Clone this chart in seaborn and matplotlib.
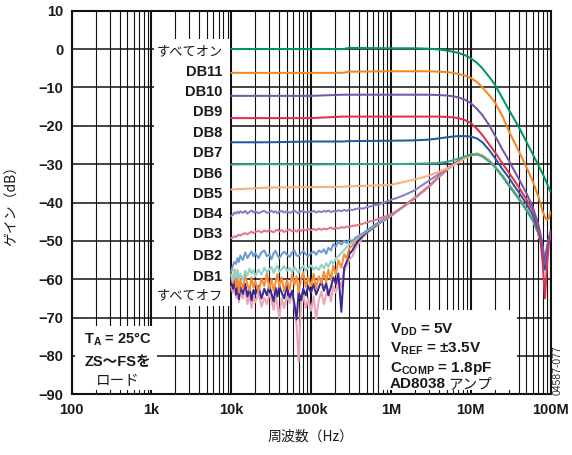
import matplotlib
matplotlib.use("Agg")
import matplotlib.pyplot as plt
import pandas as pd
import seaborn as sns
from matplotlib.patches import Rectangle
from matplotlib.ticker import FixedLocator, FixedFormatter, LogLocator, NullFormatter

# ---------------------------------------------------------------- data
# x tick positions / labels
x_ticks = [1e2, 1e3, 1e4, 1e5, 1e6, 1e7, 1e8]
x_tick_labels = ["100", "1k", "10k", "100k", "1M", "10M", "100M"]
y_ticks = [-90, -80, -70, -60, -50, -40, -30, -20, -10, 0, 10]
y_tick_labels = ["\u221290", "\u221280", "\u221270", "\u221260", "\u221250",
                 "\u221240", "\u221230", "\u221220", "\u221210", "0", "10"]

# code labels, top to bottom
code_labels = ["すべてオン", "DB11", "DB10", "DB9", "DB8", "DB7", "DB6",
               "DB5", "DB4", "DB3", "DB2", "DB1", "すべてオフ"]

# frequency grid for the upper (clean) responses
f_up = [10e3, 30e3, 100e3, 250e3, 300e3, 1e6, 2e6, 3e6, 4e6, 5e6, 6e6, 7e6,
        8.5e6, 10e6, 12e6, 14e6, 17e6, 20e6, 25e6, 30e6, 35e6, 40e6, 50e6,
        60e6, 70e6, 75e6, 80e6, 85e6, 90e6, 95e6, 100e6]

gain_all_on = [0, 0, 0, 0, 0.3, 0.2, 0.2, 0.1, -0.1, -0.4, -0.7, -1.0, -1.6,
               -2.4, -3.6, -5.0, -7.2, -9.2, -12.8, -15.8, -18.2, -20.3, -24.2,
               -27.4, -30.2, -31.4, -32.6, -33.8, -35.0, -36.1, -37.2]
gain_db11 = [-6.2, -6.2, -6.2, -6.2, -5.9, -5.8, -5.8, -5.8, -5.9, -6.0, -6.2,
             -6.5, -6.9, -7.5, -8.6, -10.0, -12.0, -13.8, -17.5, -21.3, -24.2,
             -26.6, -30.8, -34.5, -38.3, -40.3, -42.4, -43.8, -44.6, -44.2, -42.5]
gain_db10 = [-12.2, -12.2, -12.2, -11.9, -11.9, -11.9, -11.9, -11.9, -12.0,
             -12.1, -12.3, -12.6, -13.2, -14.1, -15.6, -17.2, -19.8, -22.4,
             -26.2, -29.0, -31.6, -33.8, -37.6, -41.2, -45.5, -48.3, -51.5,
             -56.0, -51.8, -49.5, -47.5]
gain_db9 = [-18.0, -18.0, -18.0, -17.6, -17.6, -17.6, -17.6, -17.6, -17.6,
            -17.7, -17.8, -18.0, -18.5, -19.3, -20.8, -22.4, -24.8, -26.8,
            -29.8, -32.2, -34.2, -36.0, -39.2, -42.0, -46.5, -50.0, -56.0,
            -65.0, -57.0, -51.0, -48.5]
gain_db8 = [-24.3, -24.3, -24.1, -24.1, -24.0, -23.9, -23.8, -23.6, -23.3,
            -23.0, -22.8, -22.7, -22.7, -22.8, -23.3, -24.3, -26.3, -28.3,
            -31.3, -33.5, -35.6, -37.3, -40.4, -43.2, -47.0, -49.5, -53.0,
            -57.5, -53.0, -50.0, -48.0]
gain_db7 = [-30.1, -30.0, -30.1, -30.0, -30.0, -30.0, -29.9, -29.8, -29.7,
            -29.4, -29.0, -28.6, -28.0, -27.6, -27.5, -28.0, -29.3, -30.7,
            -33.2, -35.5, -37.4, -39.0, -42.0, -44.6, -47.8, -50.0, -52.5,
            -56.0, -52.5, -50.0, -48.0]
gain_db6 = [-36.6, -36.1, -36.0, -35.9, -35.8, -35.4, -34.0, -33.0, -32.0,
            -31.2, -30.4, -29.6, -28.5, -27.7, -27.3, -27.8, -29.1, -30.6,
            -33.1, -35.4, -37.3, -38.9, -41.9, -44.5, -47.8, -50.0, -52.5,
            -56.5, -52.5, -50.0, -48.0]

# frequency grid for the low-level (noisy) responses, 10 kHz .. 1 MHz
f_noise = [10e3, 10.5e3, 11e3, 11.5e3, 12e3, 12.5e3, 13e3, 14e3, 15e3, 16e3,
           17e3, 18e3, 19e3, 20e3, 22e3, 24e3, 26e3, 28e3, 30e3, 32e3, 34e3,
           36e3, 38e3, 40e3, 43e3, 46e3, 50e3, 54e3, 58e3, 62e3, 66e3, 70e3,
           75e3, 80e3, 86e3, 92e3, 100e3, 108e3, 116e3, 125e3, 135e3, 145e3,
           155e3, 165e3, 178e3, 190e3, 205e3, 220e3, 240e3, 260e3, 280e3,
           300e3, 330e3, 360e3, 400e3, 450e3, 500e3, 560e3, 630e3, 710e3,
           800e3, 900e3, 1e6]

# frequency grid above 1 MHz where the low-level responses merge
f_tail = [1.2e6, 1.5e6, 2e6, 3e6, 4e6, 5e6, 6e6, 7e6, 8.5e6, 10e6, 12e6, 14e6,
          17e6, 20e6, 25e6, 30e6, 35e6, 40e6, 50e6, 60e6, 70e6, 75e6, 80e6,
          85e6, 90e6, 95e6, 100e6]
gain_tail = [-42.2, -40.8, -38.8, -35.8, -33.3, -31.5, -30.2, -29.2, -28.2,
             -27.6, -27.3, -27.8, -29.1, -30.6, -33.1, -35.4, -37.3, -38.9,
             -41.9, -44.5, -47.8, -50.0, -52.5, -56.5, -52.5, -50.0, -48.0]
gain_db5_tail = [-38.8, -38.0, -36.8, -34.3, -32.6, -31.2, -30.1, -29.2,
                 -28.2, -27.6, -27.3, -27.8, -29.1, -30.6, -33.1, -35.4, -37.3,
                 -38.9, -41.9, -44.5, -47.8, -50.0, -52.5, -55.5, -52.5, -50.0,
                 -48.0]

gain_db5 = [-43.5, -43.2, -42.6, -42.9, -42.4, -42.8, -42.3, -42.7, -42.2,
            -42.9, -42.4, -42.1, -42.6, -42.3, -42.8, -42.4, -42.2, -42.7,
            -42.5, -42.1, -42.6, -42.3, -42.8, -42.4, -42.2, -42.6, -42.3,
            -42.7, -42.4, -42.1, -42.5, -42.8, -42.3, -42.2, -42.6, -42.4,
            -42.5, -42.2, -42.6, -42.3, -42.5, -42.2, -42.4, -42.1, -42.5,
            -42.2, -42.4, -42.0, -42.3, -41.9, -42.2, -41.8, -42.0, -41.7,
            -41.5, -41.6, -41.2, -41.0, -40.7, -40.5, -40.1, -39.7, -39.3]
gain_db4 = [-49.3, -49.1, -48.8, -49.0, -48.6, -48.4, -48.6, -48.2, -48.0,
            -48.3, -47.9, -47.6, -48.0, -47.7, -47.4, -47.8, -47.3, -47.6,
            -47.2, -47.5, -47.8, -47.3, -47.1, -47.5, -47.2, -47.7, -47.3,
            -47.0, -47.5, -47.2, -47.6, -47.1, -47.4, -47.0, -47.3, -46.9,
            -47.2, -46.9, -47.2, -46.8, -47.1, -46.8, -47.0, -46.8, -46.5,
            -46.9, -46.6, -46.8, -46.4, -46.6, -46.3, -46.4, -46.1, -46.0,
            -45.8, -45.5, -45.2, -44.9, -44.6, -44.2, -43.8, -43.5, -43.1]
gain_db3 = [-58.0, -56.5, -55.5, -56.0, -54.5, -55.5, -53.8, -55.0, -53.0,
            -54.5, -53.5, -52.8, -54.0, -53.2, -54.5, -53.0, -52.5, -54.0,
            -53.5, -54.8, -53.2, -52.6, -53.8, -54.5, -53.5, -52.8, -53.6,
            -54.2, -53.0, -52.5, -53.8, -54.0, -53.2, -52.6, -53.5, -54.0,
            -53.2, -52.8, -53.6, -52.5, -53.0, -52.2, -53.4, -51.8, -52.5,
            -50.8, -51.5, -50.2, -51.0, -50.0, -50.6, -49.8, -50.0, -49.2,
            -48.6, -48.0, -47.3, -46.6, -45.8, -45.1, -44.4, -43.8, -43.2]
gain_db2 = [-59.0, -60.5, -58.0, -59.5, -57.5, -60.0, -58.5, -60.2, -57.8,
            -59.0, -57.2, -58.5, -57.6, -59.2, -57.5, -58.8, -57.0, -58.2,
            -57.5, -56.8, -58.4, -57.2, -56.5, -58.0, -57.4, -56.6, -57.8,
            -57.0, -58.2, -56.8, -57.6, -58.3, -57.2, -56.5, -57.8, -57.0,
            -56.4, -57.5, -56.8, -57.6, -56.2, -57.2, -55.8, -56.8, -55.2,
            -56.0, -54.5, -54.0, -53.2, -52.4, -51.6, -51.0, -50.4, -49.6,
            -48.8, -48.1, -47.4, -46.7, -45.9, -45.2, -44.5, -43.9, -43.3]
gain_db1 = [-58.5, -61.0, -57.5, -62.0, -59.5, -63.5, -60.0, -62.5, -58.8,
            -61.5, -63.0, -59.5, -62.2, -60.5, -63.2, -59.8, -61.8, -58.5,
            -62.5, -60.0, -63.0, -60.8, -58.6, -62.0, -59.5, -63.2, -60.2,
            -62.8, -58.8, -61.5, -59.2, -63.5, -60.0, -58.2, -62.0, -59.5,
            -61.8, -58.6, -62.5, -59.2, -61.0, -58.0, -60.8, -57.5, -60.2,
            -56.5, -58.8, -55.0, -57.0, -53.5, -54.6, -52.0, -51.2, -50.0,
            -49.0, -48.2, -47.5, -46.8, -46.0, -45.3, -44.6, -44.0, -43.4]
gain_db0 = [-60.0, -62.5, -59.5, -64.0, -61.0, -65.2, -62.0, -63.8, -61.2,
            -64.5, -62.2, -65.5, -62.8, -64.0, -61.8, -65.0, -62.5, -64.2,
            -61.5, -63.8, -65.8, -62.2, -64.5, -61.8, -63.5, -65.0, -62.0,
            -64.8, -63.0, -66.5, -70.5, -63.2, -65.5, -62.5, -64.2, -61.8,
            -63.5, -61.2, -64.0, -62.2, -60.5, -63.0, -61.0, -64.2, -62.0,
            -59.5, -61.2, -58.5, -68.5, -57.0, -55.5, -53.5, -52.5, -51.0,
            -49.8, -48.6, -47.8, -47.0, -46.2, -45.4, -44.7, -44.1, -43.5]
gain_all_off = [-62.0, -63.5, -61.5, -64.8, -62.5, -66.0, -63.2, -65.0, -62.8,
                -66.5, -64.0, -67.5, -64.5, -66.0, -63.5, -67.2, -64.8, -66.5,
                -63.8, -65.5, -68.0, -64.2, -66.8, -70.0, -65.0, -67.5, -64.5,
                -66.2, -63.5, -67.0, -72.0, -81.5, -66.0, -64.2, -67.5, -65.0,
                -68.2, -64.5, -70.5, -65.5, -63.2, -66.5, -64.0, -62.5, -65.8,
                -61.8, -63.5, -60.0, -62.0, -58.0, -56.5, -55.0, -54.0, -52.0,
                -50.5, -49.0, -48.0, -47.2, -46.4, -45.6, -44.9, -44.2, -43.6]

# ---------------------------------------------------------------- table
series = [
    ("off", f_noise + f_tail, gain_all_off + gain_tail, "#eba5b6"),
    ("code0", f_noise + f_tail, gain_db0 + gain_tail, "#3b2a94"),
    ("DB1", f_noise + f_tail, gain_db1 + gain_tail, "#f68d36"),
    ("DB2", f_noise + f_tail, gain_db2 + gain_tail, "#90d2c9"),
    ("DB3", f_noise + f_tail, gain_db3 + gain_tail, "#6a9bd2"),
    ("DB4", f_noise + f_tail, gain_db4 + gain_tail, "#e87489"),
    ("DB5", f_noise + f_tail, gain_db5 + gain_db5_tail, "#8f7cc0"),
    ("DB6", f_up, gain_db6, "#f9ae7c"),
    ("DB7", f_up, gain_db7, "#36a888"),
    ("DB8", f_up, gain_db8, "#1c5d9e"),
    ("DB9", f_up, gain_db9, "#e0304f"),
    ("DB10", f_up, gain_db10, "#7656a6"),
    ("DB11", f_up, gain_db11, "#f5861f"),
    ("on", f_up, gain_all_on, "#00995a"),
]

frames = []
for name, f, g, _ in series:
    frames.append(pd.DataFrame({"freq": f, "gain": g, "code": name}))
df = pd.concat(frames, ignore_index=True)
palette = {name: c for name, _, _, c in series}
order = [name for name, _, _, _ in series]

# ---------------------------------------------------------------- style
sns.set_theme(style="white")
plt.rcParams["font.family"] = ["Liberation Sans", "Noto Sans CJK JP", "DejaVu Sans"]
plt.rcParams["mathtext.fontset"] = "custom"
plt.rcParams["mathtext.rm"] = "Liberation Sans"
plt.rcParams["mathtext.bf"] = "Liberation Sans:bold"
plt.rcParams["mathtext.it"] = "Liberation Sans:italic"

fig = plt.figure(figsize=(5.72, 4.55), dpi=100)
ax = fig.add_axes([71.5 / 572, 1 - 394.3 / 455, 479 / 572, 383.6 / 455])
ax.set_xscale("log")

sns.lineplot(data=df, x="freq", y="gain", hue="code", hue_order=order,
             palette=palette, estimator=None, sort=False, linewidth=1.45,
             legend=False, ax=ax, zorder=3)

ax.set_xlim(1e2, 1e8)
ax.set_ylim(-90, 10)
ax.xaxis.set_major_locator(FixedLocator(x_ticks))
ax.xaxis.set_major_formatter(FixedFormatter(x_tick_labels))
ax.xaxis.set_minor_locator(LogLocator(base=10, subs=[2, 3, 4, 5, 6, 7, 8, 9], numticks=20))
ax.xaxis.set_minor_formatter(NullFormatter())
ax.yaxis.set_major_locator(FixedLocator(y_ticks))
ax.yaxis.set_major_formatter(FixedFormatter(y_tick_labels))

ax.set_axisbelow(True)
ax.xaxis.grid(True, which="major", color="#111111", linewidth=1.5)
ax.xaxis.grid(True, which="minor", color="#111111", linewidth=0.8)
ax.yaxis.grid(True, which="major", color="#111111", linewidth=1.1)
ax.tick_params(which="both", length=0)
ax.tick_params(axis="x", pad=6, labelsize=10.5)
ax.tick_params(axis="y", pad=6, labelsize=10.5)
for lab in ax.get_xticklabels() + ax.get_yticklabels():
    lab.set_fontweight("bold")
    lab.set_color("#1a1a1a")
for sp in ax.spines.values():
    sp.set_visible(True)
    sp.set_color("#111111")
    sp.set_linewidth(1.5)
ax.set_xlabel("")
ax.set_ylabel("")

# white panels behind the annotations
def px_box(x0, y0, x1, y1):
    ax.add_patch(Rectangle(((x0 - 71.5) / 479, (394.3 - y1) / 383.6),
                           (x1 - x0) / 479, (y1 - y0) / 383.6,
                           transform=ax.transAxes, facecolor="white",
                           edgecolor="none", zorder=1))

px_box(153.5, 39, 229.5, 306)     # code labels
px_box(75, 326, 157, 390)         # temperature / load note
px_box(380, 310, 517, 390)        # supply / reference note

def ax_pt(x, y):
    return (x - 71.5) / 479, (394.3 - y) / 383.6

# code labels
label_baselines = [55.5, 75.7, 95.5, 116.3, 137.3, 157.3, 177.5, 198.3,
                   218.3, 238.3, 260.0, 281.0, 299.0]
for text, yb in zip(code_labels, label_baselines):
    xa, ya = ax_pt(222.5, yb)
    if text.startswith("DB"):
        ax.text(xa, ya, text, transform=ax.transAxes, ha="right", va="baseline",
                fontsize=10.5, fontweight="bold", color="#1a1a1a", zorder=4)
    else:
        ax.text(xa, ya, text, transform=ax.transAxes, ha="right", va="baseline",
                fontsize=9.5, color="#1a1a1a", zorder=4,
                family=["Noto Sans CJK JP", "Liberation Sans"])

# temperature / load note
for text, yb, bold in [(r"T$_\mathbf{A}$ = 25°C", 344, True),
                       ("ZS〜FSを", 366.5, True),
                       ("ロード", 384, False)]:
    xa, ya = ax_pt(117.5, yb)
    ax.text(xa, ya, text, transform=ax.transAxes, ha="center", va="baseline",
            fontsize=10.5, fontweight="bold" if bold else "normal",
            color="#1a1a1a", zorder=4)

# supply / reference note
for text, yb in [(r"V$_\mathbf{DD}$ = 5V", 333.3),
                 (r"V$_\mathbf{REF}$ = ±3.5V", 352.7),
                 (r"C$_\mathbf{COMP}$ = 1.8pF", 371.7)]:
    xa, ya = ax_pt(389.5, yb)
    ax.text(xa, ya, text, transform=ax.transAxes, ha="left", va="baseline",
            fontsize=11, fontweight="bold", color="#1a1a1a", zorder=4)
xa, ya = ax_pt(389.5, 388.3)
ax.text(xa, ya, "AD8038", transform=ax.transAxes, ha="left", va="baseline",
        fontsize=11, fontweight="bold", color="#1a1a1a", zorder=4)
xa2, _ = ax_pt(448, 388.3)
ax.text(xa2, ya, "アンプ", transform=ax.transAxes, ha="left", va="baseline",
        fontsize=10.5, color="#1a1a1a", zorder=4,
        family=["Noto Sans CJK JP", "Liberation Sans"])

# axis titles and figure id
fig.text(311 / 572, 1 - 437 / 455, "周波数（Hz）", ha="center", va="center",
         fontsize=10, color="#1a1a1a", family=["Noto Sans CJK JP", "Liberation Sans"])
fig.text(12 / 572, 1 - 202 / 455, "ゲイン（dB）", ha="center", va="center",
         rotation=90, fontsize=10, color="#1a1a1a",
         family=["Noto Sans CJK JP", "Liberation Sans"])
fig.text(558 / 572, 1 - 370 / 455, "04587-077", ha="center", va="center",
         rotation=90, fontsize=7.5, color="#333333")

fig.savefig("out.png", dpi=100)
